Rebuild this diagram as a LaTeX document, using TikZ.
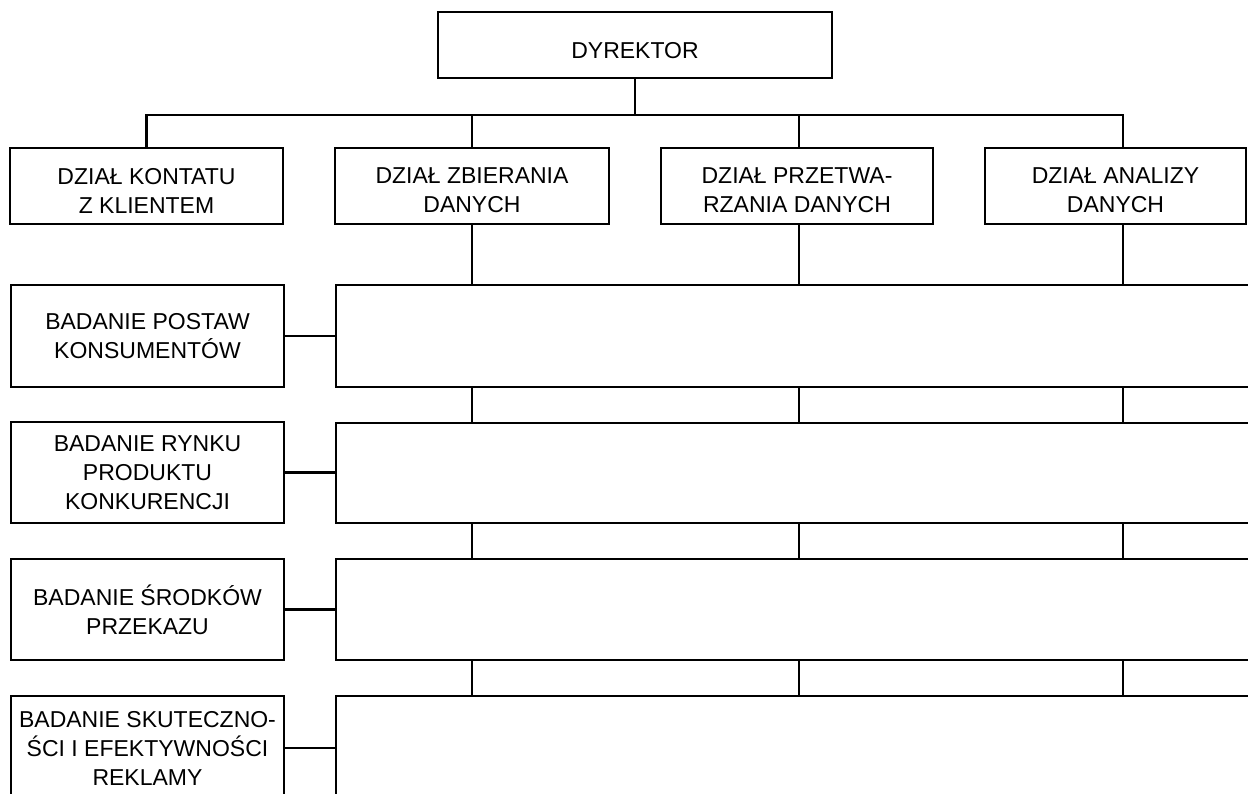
\documentclass[tikz,border=0pt]{standalone}
\usepackage{fontspec}
\setmainfont{Liberation Sans}
\begin{document}
\begin{tikzpicture}[x=1pt,y=-1pt,line width=2.1pt,
  box/.style={draw, rectangle, align=center, inner sep=0pt, line width=2.1pt,
    font=\fontsize{23}{29}\selectfont},
  link/.style={line width=2.1pt}]
\useasboundingbox (0,0) rectangle (1248,793);
\clip (0,0) rectangle (1248,793);
% director
\node[box, minimum width=394pt, minimum height=66pt, text height=28pt] (dir) at (635,45) {DYREKTOR};
% departments
\node[box, minimum width=273pt, minimum height=76pt] (d1) at (146.5,186) {\rule{0pt}{25pt}DZIAŁ KONTATU\\Z KLIENTEM};
\node[box, minimum width=274pt, minimum height=76pt] (d2) at (472,186) {\rule{0pt}{25pt}DZIAŁ ZBIERANIA\\DANYCH};
\node[box, minimum width=272pt, minimum height=76pt] (d3) at (797,186) {\rule{0pt}{25pt}DZIAŁ PRZETWA-\\RZANIA DANYCH};
\node[box, minimum width=261pt, minimum height=76pt] (d4) at (1115.5,186) {\rule{0pt}{25pt}DZIAŁ ANALIZY\\DANYCH};
% research areas
\node[box, minimum width=273pt, minimum height=102pt] (l1) at (147.5,336) {BADANIE POSTAW\\KONSUMENTÓW};
\node[box, minimum width=273pt, minimum height=101pt] (l2) at (147.5,472.5) {BADANIE RYNKU\\PRODUKTU\\KONKURENCJI};
\node[box, minimum width=273pt, minimum height=101pt] (l3) at (147.5,609.5) {BADANIE ŚRODKÓW\\PRZEKAZU};
\node[box, minimum width=273pt, minimum height=104pt] (l4) at (147.5,748) {BADANIE SKUTECZNO-\\ŚCI I EFEKTYWNOŚCI\\REKLAMY};
% wide boxes
\node[box, minimum width=964pt, minimum height=102pt] (w1) at (818,336) {};
\node[box, minimum width=964pt, minimum height=100pt] (w2) at (818,473) {};
\node[box, minimum width=964pt, minimum height=101pt] (w3) at (818,609.5) {};
\node[box, minimum width=964pt, minimum height=104pt] (w4) at (818,748) {};
% helper coordinates
\coordinate (bus) at (0,115);
\coordinate (cA) at (472,0);
\coordinate (cB) at (799,0);
\coordinate (cC) at (1123,0);
% top connectors
\draw[link] (dir.south) -- (dir.south |- bus);
\draw[link] (d1.north) |- (bus -| cC) -- (d4.north -| cC);
\draw[link] (d2.north) -- (d2.north |- bus);
\draw[link] (d3.north -| cB) -- (bus -| cB);
% vertical connectors down the grid
\foreach \c in {cA,cB,cC}{
  \draw[link] (d1.south -| \c) -- (w1.north -| \c);
  \draw[link] (w1.south -| \c) -- (w2.north -| \c);
  \draw[link] (w2.south -| \c) -- (w3.north -| \c);
  \draw[link] (w3.south -| \c) -- (w4.north -| \c);
}
% horizontal connectors
\draw[link] (l1.east) -- (l1.east -| w1.west);
\draw[link] (l2.east) -- (l2.east -| w2.west);
\draw[link] (l3.east) -- (l3.east -| w3.west);
\draw[link] (l4.east) -- (l4.east -| w4.west);
\end{tikzpicture}
\end{document}
